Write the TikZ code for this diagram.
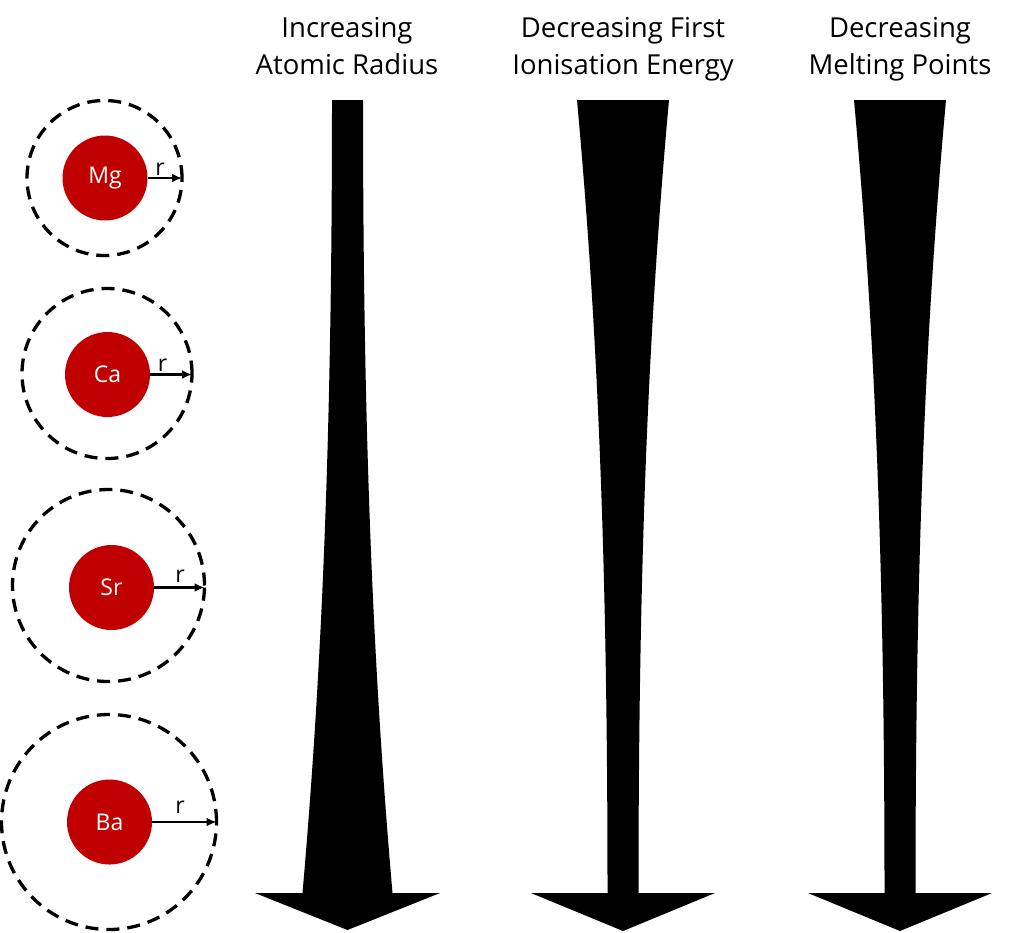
\documentclass[tikz,border=0pt]{standalone}
\usepackage{fontspec}
\setmainfont{Open Sans}
\usetikzlibrary{arrows.meta}
\definecolor{atomred}{HTML}{C00000}
\begin{document}
\begin{tikzpicture}[x=1pt,y=-1pt,
  core/.style={circle,fill=atomred,draw=none,minimum size=85pt,inner sep=0pt,text=white,font=\fontsize{23}{26}\selectfont},
  shell/.style={circle,draw=black,line width=3.3pt,dash pattern=on 13pt off 8pt,inner sep=0pt,outer sep=0pt},
  radarrow/.style={line width=2.2pt,-{Latex[length=10pt,width=9pt]}},
  rlab/.style={font=\fontsize{23}{26}\selectfont,anchor=base,inner sep=0pt},
  title/.style={align=center,font=\fontsize{27.5}{37}\selectfont,anchor=base,inner sep=0pt},
  bigarrow/.style={fill=black,draw=none}]
\useasboundingbox (0,0) rectangle (1024,932);
% atoms
\node[shell,minimum size=155pt] (mgshell) at (104.5,178) {};
\node[core] (mg) at (105,178) {Mg};
\draw[radarrow] (mg.east) -- (mgshell.east);
\node[rlab] (mgr) at (160,175) {r};
\node[shell,minimum size=170pt] (cashell) at (107,373.5) {};
\node[core] (ca) at (107.5,374.5) {Ca};
\draw[radarrow] (ca.east) -- (ca.east -| cashell.east);
\node[rlab] (car) at (162.5,371) {r};
\node[shell,minimum size=192pt] (srshell) at (108.5,585.5) {};
\node[core] (sr) at (111.5,587.5) {Sr};
\draw[radarrow] (sr.east) -- (sr.east -| srshell.east);
\node[rlab] (srr) at (180,582) {r};
\node[shell,minimum size=215pt] (bashell) at (109,822) {};
\node[core] (ba) at (109.5,822) {Ba};
\draw[radarrow] (ba.east) -- (ba.east -| bashell.east);
\node[rlab] (bar) at (180,813) {r};
% titles
\node[title] (t1) at (347,74) {Increasing\\Atomic Radius};
\node[title] (t2) at (623,74) {Decreasing First\\Ionisation Energy};
\node[title] (t3) at (900,74) {Decreasing\\Melting Points};
% big arrows
\fill[bigarrow] (332,100) -- (363,100)
  .. controls (363,417) and (371.8,655) .. (392.5,893)
  -- (440,893) -- (347.5,930) -- (255,893) -- (302.5,893)
  .. controls (323.2,655) and (332,417) .. (332,100) -- cycle;
\fill[bigarrow] (577,100) -- (669,100)
  .. controls (647.35,338) and (638.5,576) .. (638.5,893)
  -- (715,893) -- (623,931) -- (531,893) -- (607.5,893)
  .. controls (607.5,576) and (598.65,338) .. (577,100) -- cycle;
\fill[bigarrow] (854,100) -- (946,100)
  .. controls (924.35,338) and (915.5,576) .. (915.5,893)
  -- (992,893) -- (900,931) -- (808,893) -- (884.5,893)
  .. controls (884.5,576) and (875.65,338) .. (854,100) -- cycle;
\end{tikzpicture}
\end{document}
